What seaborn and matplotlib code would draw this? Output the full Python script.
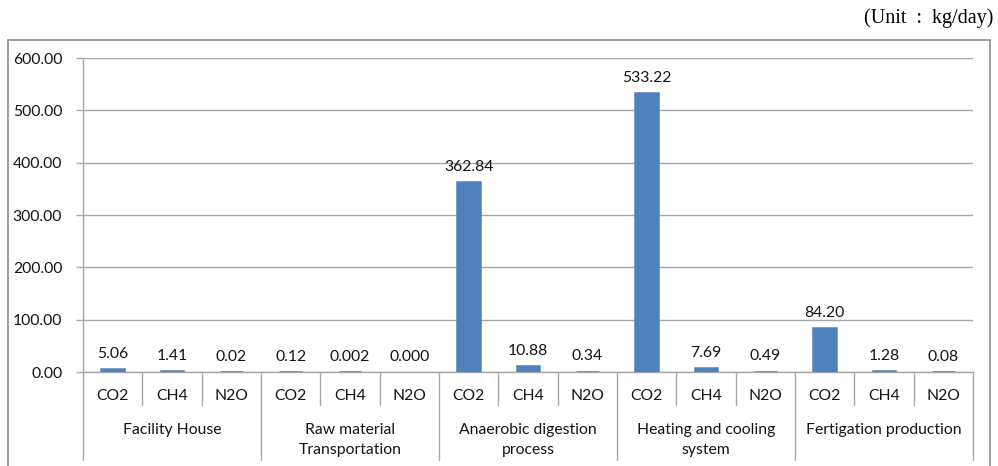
import matplotlib
matplotlib.use("Agg")
import matplotlib.pyplot as plt
import matplotlib.transforms as mtransforms
from matplotlib.patches import Rectangle
import seaborn as sns
import pandas as pd

# Emission sources and the gases reported for each
groups = ["Facility House", "Raw material\nTransportation",
          "Anaerobic digestion\nprocess", "Heating and cooling\nsystem",
          "Fertigation production"]
gases = ["CO2", "CH4", "N2O"]

# Daily emissions (kg/day), three gases per source in the order above
emissions = [5.06, 1.41, 0.02,
             0.12, 0.002, 0.000,
             362.84, 10.88, 0.34,
             533.22, 7.69, 0.49,
             84.20, 1.28, 0.08]
label_decimals = [2, 2, 2,
                  2, 3, 3,
                  2, 2, 2,
                  2, 2, 2,
                  2, 2, 2]

y_ticks = [0, 100, 200, 300, 400, 500, 600]

sns.set_theme(style="white")
plt.rcParams["font.family"] = ["Lato", "DejaVu Sans"]

df = pd.DataFrame({
    "slot": list(range(len(emissions))),
    "value": emissions,
})

fig = plt.figure(figsize=(9.98, 4.66), dpi=100)
ax = fig.add_axes([0.0832, 0.2017, 0.8918, 0.6738])

bar_color = "#4F81BD"
grid_color = "#A6A6A6"
text_color = "#141414"
fs = 11.3

sns.barplot(data=df, x="slot", y="value", color=bar_color, width=0.385,
            saturation=1, edgecolor=bar_color, linewidth=1.8, ax=ax, zorder=3)
for p in ax.patches:
    if p.get_height() == 0:
        p.set_linewidth(0)

labels = [f"{v:.{d}f}" for v, d in zip(emissions, label_decimals)]
ax.bar_label(ax.containers[0], labels=labels, padding=6,
             fontsize=fs, color=text_color)

ax.set_ylim(0, 600)
ax.set_xlim(-0.5, len(emissions) - 0.5)
ax.set_yticks(y_ticks)
ax.set_yticklabels([f"{t:.2f}" for t in y_ticks], fontsize=fs, color=text_color)
ax.yaxis.grid(True, color=grid_color, linewidth=1.0, zorder=0)
ax.set_axisbelow(True)
ax.tick_params(axis="y", which="major", length=5, width=1.0, color=grid_color,
               direction="out", pad=10, left=True)

ax.set_xticks(range(len(emissions)))
ax.set_xticklabels(gases * len(groups), fontsize=fs, color=text_color)
ax.tick_params(axis="x", length=0, pad=12)
ax.set_xlabel("")
ax.set_ylabel("")

for side in ["top", "right"]:
    ax.spines[side].set_visible(False)
ax.spines["left"].set_color(grid_color)
ax.spines["bottom"].set_color(grid_color)
ax.spines["left"].set_linewidth(1.0)
ax.spines["bottom"].set_linewidth(1.0)

# Multi-level category axis: dividers between gases and between sources
trans = mtransforms.blended_transform_factory(ax.transData, ax.transAxes)
n_gas = len(gases)
for i in range(len(emissions) + 1):
    xpos = i - 0.5
    y_end = -0.28 if i % n_gas == 0 else -0.105
    ax.plot([xpos, xpos], [0, y_end], color=grid_color, linewidth=1.0,
            transform=trans, clip_on=False, zorder=1)

for g, name in enumerate(groups):
    center = g * n_gas + (n_gas - 1) / 2
    ax.text(center, -0.162, name, transform=trans, ha="center", va="top",
            fontsize=fs, color=text_color, linespacing=1.58)

# Chart frame and unit note
fig.patches.append(Rectangle((8 / 998, -0.01), 982 / 998, 1 - 40 / 466 + 0.01,
                             transform=fig.transFigure, fill=False,
                             edgecolor="#8C8C8C", linewidth=1.2))
fig.text(993 / 998, 1 - 18 / 466, "(Unit  :  kg/day)", ha="right", va="center",
         fontsize=14.5, family=["Liberation Serif", "DejaVu Serif"], color="black")

fig.savefig("out.png", dpi=100)
